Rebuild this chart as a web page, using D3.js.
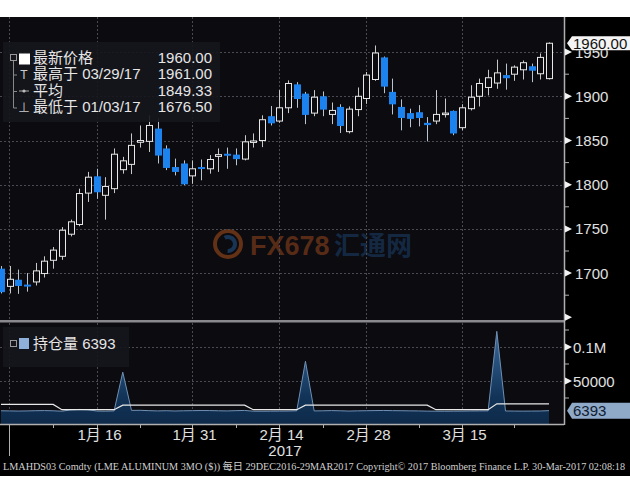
<!DOCTYPE html>
<html><head><meta charset="utf-8">
<script src="https://cdn.jsdelivr.net/npm/d3@7"></script>
<style>html,body{margin:0;padding:0;background:#fff}svg{display:block}</style>
</head><body>
<script>
// ---------- DATA ----------
const dates = ["2016-12-29","2016-12-30","2017-01-03","2017-01-04","2017-01-05","2017-01-06","2017-01-09","2017-01-10","2017-01-11","2017-01-12","2017-01-13","2017-01-16","2017-01-17","2017-01-18","2017-01-19","2017-01-20","2017-01-23","2017-01-24","2017-01-25","2017-01-26","2017-01-27","2017-01-30","2017-01-31","2017-02-01","2017-02-02","2017-02-03","2017-02-06","2017-02-07","2017-02-08","2017-02-09","2017-02-10","2017-02-13","2017-02-14","2017-02-15","2017-02-16","2017-02-17","2017-02-20","2017-02-21","2017-02-22","2017-02-23","2017-02-24","2017-02-27","2017-02-28","2017-03-01","2017-03-02","2017-03-03","2017-03-06","2017-03-07","2017-03-08","2017-03-09","2017-03-10","2017-03-13","2017-03-14","2017-03-15","2017-03-16","2017-03-17","2017-03-20","2017-03-21","2017-03-22","2017-03-23","2017-03-24","2017-03-27","2017-03-28","2017-03-29"];
const open  = [1705,1685,1692.5,1687,1690,1699.5,1714.5,1719,1744,1755,1790.5,1809.5,1788,1795.5,1817,1823,1848,1849,1863.5,1841,1820,1824,1810,1820,1818,1832,1835,1834,1829,1848.5,1850,1877.5,1872,1887,1913.5,1903,1881,1900,1879.5,1888,1860,1885,1897.5,1919,1944,1905,1888,1881,1882,1870,1872,1880,1883.5,1864.5,1886,1900,1910,1915,1924,1925,1930,1934,1925.5,1920];
const high  = [1708,1708,1704,1700,1711.5,1719,1729.5,1752,1760.5,1795.5,1814.5,1818,1808.5,1841,1831.5,1858,1867,1878.5,1875,1844.5,1829.5,1827.5,1827.5,1828.5,1833.5,1841,1842,1841,1856,1858,1878.5,1889,1907,1918,1916,1905,1907,1905.5,1893,1891,1888.5,1910,1927.5,1957.5,1945,1920,1896.5,1886,1890,1876.5,1907,1897.5,1884,1891,1912.5,1920,1930,1941.5,1937,1935,1940.5,1937,1948.5,1961];
const low   = [1677,1677,1676.5,1679,1686,1695,1705,1715,1741.5,1753,1780.5,1784,1760.5,1790.5,1812.5,1812,1842,1837,1824,1816.5,1810.5,1799.5,1801,1805,1812.5,1814.5,1818,1822,1827.5,1842,1842.5,1867,1870,1881,1887,1868.5,1877.5,1877.5,1868.5,1858.5,1858,1877.5,1891.5,1917.5,1903.5,1879.5,1861.5,1865,1866,1849,1868.5,1876,1856,1861.5,1884,1888.5,1901,1908.5,1907.5,1917.5,1919,1916,1919,1919];
const close = [1679,1693,1686,1685.5,1702.5,1713.5,1726,1748.5,1758,1790,1808.5,1792,1798,1834.5,1827,1844.5,1850,1867,1833.5,1819.5,1815,1801,1818,1818.5,1828.5,1834,1834,1829.5,1848.5,1849.5,1873.5,1870,1887,1914.5,1897.5,1879.5,1899,1885.5,1884,1867,1885.5,1900,1924,1949,1911.5,1891.5,1876,1875,1876,1868,1879.5,1881,1858.5,1887,1899,1914.5,1921,1926.5,1921,1933,1938,1929.5,1944,1960];
// open interest (area) and its companion line
const openInt = [6200,6000,5800,6000,6300,6500,6200,5600,7500,8200,7800,5800,5600,6000,63000,6800,6900,6400,6000,6300,5900,6200,6400,6600,6500,6200,6000,6400,6700,5600,5500,5600,5700,5800,6200,79000,6000,6200,6500,6200,5800,6100,6300,6500,6700,6400,6300,6100,6000,5700,5600,5500,5600,5700,5900,6000,6100,123000,5900,5800,5700,5800,5900,6393];
const oiLine = [15500,15500,15500,15500,15500,15500,15500,7800,7800,7800,7800,7800,7800,7800,14500,14500,14500,14500,14500,14500,14500,14500,14500,14500,14500,14500,14500,14500,14500,7800,7800,7800,7800,7800,7800,14500,14500,14500,14500,14500,14500,14500,14500,14500,14500,14500,14500,14500,14500,14500,7800,7800,7800,7800,7800,7800,7800,16500,16500,16500,16500,16500,16500,16500];
const priceTicks = [1700,1750,1800,1850,1900,1950];
const priceMinor = [1675,1725,1775,1825,1875,1925];
const volTicks = [50000,100000];
const volTickLabels = ["50000","0.1M"];
const volMinor = [25000,75000,125000];
const dateTickIdx = [11,22,32,42,53];
const dateTickLabels = ["1月 16","1月 31","2月 14","2月 28","3月 15"];
const dateMinorIdx = [6,16,27,37,48,59];
const yearLabel = "2017";
const legendRows = [
  {label:"最新价格", value:"1960.00"},
  {label:"最高于 03/29/17", value:"1961.00"},
  {label:"平均", value:"1849.33"},
  {label:"最低于 01/03/17", value:"1676.50"}
];
const lastPrice = "1960.00";
const oiLegend = "持仓量 6393";
const lastOI = "6393";
const footer = "LMAHDS03 Comdty (LME ALUMINUM  3MO ($))  每日 29DEC2016-29MAR2017 Copyright\u00A9 2017 Bloomberg Finance L.P.  30-Mar-2017 02:08:18";

// ---------- LAYOUT ----------
const W = 630, H = 490;
const plotL = 0, plotR = 564, priceTop = 17, priceBot = 320, volTop = 323, volBot = 424;
const FONT = "'Liberation Sans','Noto Sans CJK SC',Arial,sans-serif";

const svg = d3.select("body").append("svg").attr("width", W).attr("height", H);
svg.append("rect").attr("width", W).attr("height", H).attr("fill", "#000");
svg.append("rect").attr("width", W).attr("height", priceTop).attr("fill", "#fff");
svg.append("rect").attr("x", 0).attr("y", 476).attr("width", W).attr("height", 14).attr("fill", "#fff");
svg.append("rect").attr("x", plotL).attr("y", priceTop).attr("width", plotR - plotL).attr("height", volBot - priceTop).attr("fill", "#0b0b10");

const x = d3.scaleLinear().domain([0, dates.length - 1]).range([1, 549]);
const yP = d3.scaleLinear().domain([1650, 1950]).range([317.3, 52.1]);
const yV = d3.scaleLinear().domain([0, 100000]).range([415, 347]);

const defs = svg.append("defs");
const ty = yP(1960);
defs.append("clipPath").attr("id", "below-tag").append("rect").attr("x", 565).attr("y", ty + 7).attr("width", 65).attr("height", 40);

// watermark
const wm = svg.append("g").attr("opacity", 0.8);
wm.append("circle").attr("cx", 228).attr("cy", 244).attr("r", 13).attr("fill", "none").attr("stroke", "#7a3b18").attr("stroke-width", 4);
wm.append("path").attr("d", d3.arc()({innerRadius: 5, outerRadius: 9, startAngle: -0.5, endAngle: 3.2})).attr("transform", "translate(228,244)").attr("fill", "#1e3f66");
wm.append("text").attr("x", 250).attr("y", 255).attr("font-family", FONT).attr("font-weight", "bold").attr("font-size", 27).attr("fill", "#6a3418").text("FX678");
wm.append("text").attr("x", 334).attr("y", 255).attr("font-family", FONT).attr("font-weight", "bold").attr("font-size", 26).attr("fill", "#17304f").text("汇通网");

// grid
const grid = svg.append("g").attr("stroke", "#4a4a52").attr("stroke-width", 1).attr("stroke-dasharray", "2,2");
priceTicks.forEach(p => grid.append("line").attr("x1", plotL).attr("x2", plotR).attr("y1", Math.round(yP(p)) + 0.5).attr("y2", Math.round(yP(p)) + 0.5));
volTicks.forEach(v => grid.append("line").attr("x1", plotL).attr("x2", plotR).attr("y1", Math.round(yV(v)) + 0.5).attr("y2", Math.round(yV(v)) + 0.5));
const vgrid = [0.9].concat(dateTickIdx);
vgrid.forEach(i => {
  grid.append("line").attr("x1", Math.round(x(i)) + 0.5).attr("x2", Math.round(x(i)) + 0.5).attr("y1", priceTop).attr("y2", priceBot);
  grid.append("line").attr("x1", Math.round(x(i)) + 0.5).attr("x2", Math.round(x(i)) + 0.5).attr("y1", volTop).attr("y2", volBot);
});

// candles
const bw = 6;
const cg = svg.append("g");
dates.forEach((d, i) => {
  const up = close[i] >= open[i];
  const cx = Math.round(x(i)) + 0.5;
  const top = yP(Math.max(open[i], close[i])), bot = yP(Math.min(open[i], close[i]));
  cg.append("line").attr("x1", cx).attr("x2", cx).attr("y1", yP(high[i])).attr("y2", yP(low[i]))
    .attr("stroke", up ? "#c8c8c8" : "#b8c4d4").attr("stroke-width", 1);
  const h = Math.max(bot - top, 1.5);
  if (up) {
    cg.append("rect").attr("x", cx - bw / 2).attr("y", top).attr("width", bw).attr("height", h)
      .attr("fill", "#0b0b10").attr("stroke", "#e8e8e8").attr("stroke-width", 1);
  } else {
    cg.append("rect").attr("x", cx - bw / 2 - 0.5).attr("y", top).attr("width", bw + 1).attr("height", h + 0.5)
      .attr("fill", "#1b82ee");
  }
});

// legend (price)
const lg = svg.append("g");
lg.append("rect").attr("x", 3).attr("y", 42).attr("width", 217).attr("height", 80).attr("fill", "#16161c").attr("opacity", 0.92);
const rowY = [63, 79, 95.5, 112];
lg.append("path").attr("d", `M13.5,60 V${rowY[3]-4} M13.5,${rowY[1]-4} H17 M13.5,${rowY[2]-4} H17 M13.5,${rowY[3]-4} H17`).attr("stroke", "#888").attr("fill", "none");
lg.append("rect").attr("x", 10.5).attr("y", 54.5).attr("width", 6).attr("height", 6).attr("fill", "#16161c").attr("stroke", "#999");
lg.append("rect").attr("x", 19).attr("y", 53.5).attr("width", 11).attr("height", 11).attr("fill", "#fff");
lg.append("text").attr("x", 24).attr("y", rowY[1]).attr("text-anchor", "middle").attr("font-family", FONT).attr("font-size", 12).attr("fill", "#ccc").text("T");
lg.append("circle").attr("cx", 24).attr("cy", rowY[2] - 4.5).attr("r", 1.6).attr("fill", "#ccc");
lg.append("line").attr("x1", 19).attr("x2", 29).attr("y1", rowY[2] - 4.5).attr("y2", rowY[2] - 4.5).attr("stroke", "#aaa");
lg.append("text").attr("x", 24).attr("y", rowY[3]).attr("text-anchor", "middle").attr("font-family", FONT).attr("font-size", 12).attr("fill", "#ccc").text("⊥");
legendRows.forEach((r, k) => {
  lg.append("text").attr("x", 33).attr("y", rowY[k]).attr("font-family", FONT).attr("font-size", 15).attr("fill", "#e6e6e6").text(r.label);
  lg.append("text").attr("x", 212).attr("y", rowY[k]).attr("text-anchor", "end").attr("font-family", FONT).attr("font-size", 15).attr("fill", "#e6e6e6").text(r.value);
});

// separator between panels
svg.append("rect").attr("x", 0).attr("y", priceBot).attr("width", plotR).attr("height", 2.5).attr("fill", "#8a8a8e");

// volume / open interest
const areaGen = d3.area().x((d, i) => x(i)).y0(volBot).y1(d => yV(d));
const grad = defs.append("linearGradient").attr("id", "vg").attr("x1", 0).attr("x2", 0).attr("y1", 0).attr("y2", 1);
grad.append("stop").attr("offset", "0%").attr("stop-color", "#3a6a9c");
grad.append("stop").attr("offset", "70%").attr("stop-color", "#123458");
grad.append("stop").attr("offset", "100%").attr("stop-color", "#0e2a4a");
svg.append("path").datum(openInt).attr("d", areaGen).attr("fill", "url(#vg)");
svg.append("path").datum(openInt).attr("d", d3.line().x((d, i) => x(i)).y(d => yV(d))).attr("fill", "none").attr("stroke", "#6f8fb4").attr("stroke-width", 1);
svg.append("path").datum(oiLine).attr("d", d3.line().x((d, i) => x(i)).y(d => yV(d))).attr("fill", "none").attr("stroke", "#e8e8e8").attr("stroke-width", 1.2);

// volume legend
const vl = svg.append("g");
vl.append("rect").attr("x", 3).attr("y", 327).attr("width", 126).attr("height", 40).attr("fill", "#16161c").attr("opacity", 0.92);
vl.append("rect").attr("x", 10.5).attr("y", 340.5).attr("width", 6).attr("height", 6).attr("fill", "#16161c").attr("stroke", "#999");
vl.append("rect").attr("x", 19).attr("y", 338).attr("width", 10).attr("height", 11).attr("fill", "#8fb0d8");
vl.append("text").attr("x", 33).attr("y", 349).attr("font-family", FONT).attr("font-size", 15).attr("fill", "#e6e6e6").text(oiLegend);

// axes lines
svg.append("line").attr("x1", plotR + 0.5).attr("x2", plotR + 0.5).attr("y1", priceTop).attr("y2", volBot + 1).attr("stroke", "#b0b0b0").attr("stroke-width", 1.5);
svg.append("line").attr("x1", 0).attr("x2", plotR).attr("y1", volBot + 0.5).attr("y2", volBot + 0.5).attr("stroke", "#b0b0b0").attr("stroke-width", 1.5);

// price axis
const pa = svg.append("g");
priceMinor.forEach(p => pa.append("line").attr("x1", plotR).attr("x2", plotR + 5).attr("y1", yP(p)).attr("y2", yP(p)).attr("stroke", "#b0b0b0"));
priceTicks.concat([1650]).forEach(p => {
  const yy = yP(p);
  pa.append("path").attr("d", `M${plotR + 1},${yy - 3.5} L${plotR + 8},${yy} L${plotR + 1},${yy + 3.5} Z`).attr("fill", "#f2f2f2");
});
priceTicks.forEach(p => {
  const t = pa.append("text").attr("x", 575).attr("y", yP(p) + 5.5).attr("font-family", FONT).attr("font-size", 15).attr("fill", "#e0e0e0").text(p);
  if (p === 1950) t.attr("clip-path", "url(#below-tag)");
});
// last price tag
pa.append("path").attr("d", `M${plotR + 3},${ty} L${plotR + 8},${ty - 7} H630 V${ty + 7} H${plotR + 8} Z`).attr("fill", "#f4f4f4");
pa.append("text").attr("x", 573).attr("y", ty + 5.5).attr("font-family", FONT).attr("font-size", 15).attr("fill", "#111").text(lastPrice);

// volume axis
const va = svg.append("g");
volMinor.forEach(v => va.append("line").attr("x1", plotR).attr("x2", plotR + 5).attr("y1", yV(v)).attr("y2", yV(v)).attr("stroke", "#b0b0b0"));
volTicks.forEach((v, k) => {
  const yy = yV(v);
  va.append("path").attr("d", `M${plotR + 1},${yy - 3.5} L${plotR + 8},${yy} L${plotR + 1},${yy + 3.5} Z`).attr("fill", "#f2f2f2");
  va.append("text").attr("x", 573).attr("y", yy + 5.5).attr("font-family", FONT).attr("font-size", 15).attr("fill", "#e0e0e0").text(volTickLabels[k]);
});
const oy = yV(6393);
va.append("path").attr("d", `M${plotR + 3},${oy} L${plotR + 8},${oy - 8} H630 V${oy + 8} H${plotR + 8} Z`).attr("fill", "#8fa9c9");
va.append("text").attr("x", 573).attr("y", oy + 5.5).attr("font-family", FONT).attr("font-size", 15).attr("fill", "#102030").text(lastOI);

// date axis
const xa = svg.append("g");
dateTickIdx.forEach((i, k) => {
  const xx = Math.round(x(i)) + 0.5;
  xa.append("line").attr("x1", xx).attr("x2", xx).attr("y1", volBot).attr("y2", volBot + 5).attr("stroke", "#b0b0b0");
  xa.append("text").attr("x", xx + 2).attr("y", 440).attr("text-anchor", "middle").attr("font-family", FONT).attr("font-size", 15).attr("fill", "#e0e0e0").text(dateTickLabels[k]);
});
dateMinorIdx.forEach(i => {
  const xx = Math.round(x(i)) + 0.5;
  xa.append("line").attr("x1", xx).attr("x2", xx).attr("y1", volBot).attr("y2", volBot + 4).attr("stroke", "#b0b0b0");
});
xa.append("line").attr("x1", Math.round(x(0.9)) + 0.5).attr("x2", Math.round(x(0.9)) + 0.5).attr("y1", volBot).attr("y2", 456).attr("stroke", "#b0b0b0");
xa.append("text").attr("x", 285).attr("y", 456).attr("text-anchor", "middle").attr("font-family", FONT).attr("font-size", 15).attr("fill", "#e0e0e0").text(yearLabel);

// footer
svg.append("text").attr("x", 3).attr("y", 470).attr("font-family", "'Liberation Serif','Noto Sans CJK SC',serif").attr("font-size", 10).attr("fill", "#cfcfcf")
  .attr("textLength", 622).attr("lengthAdjust", "spacingAndGlyphs").text(footer);
</script>
</body></html>
